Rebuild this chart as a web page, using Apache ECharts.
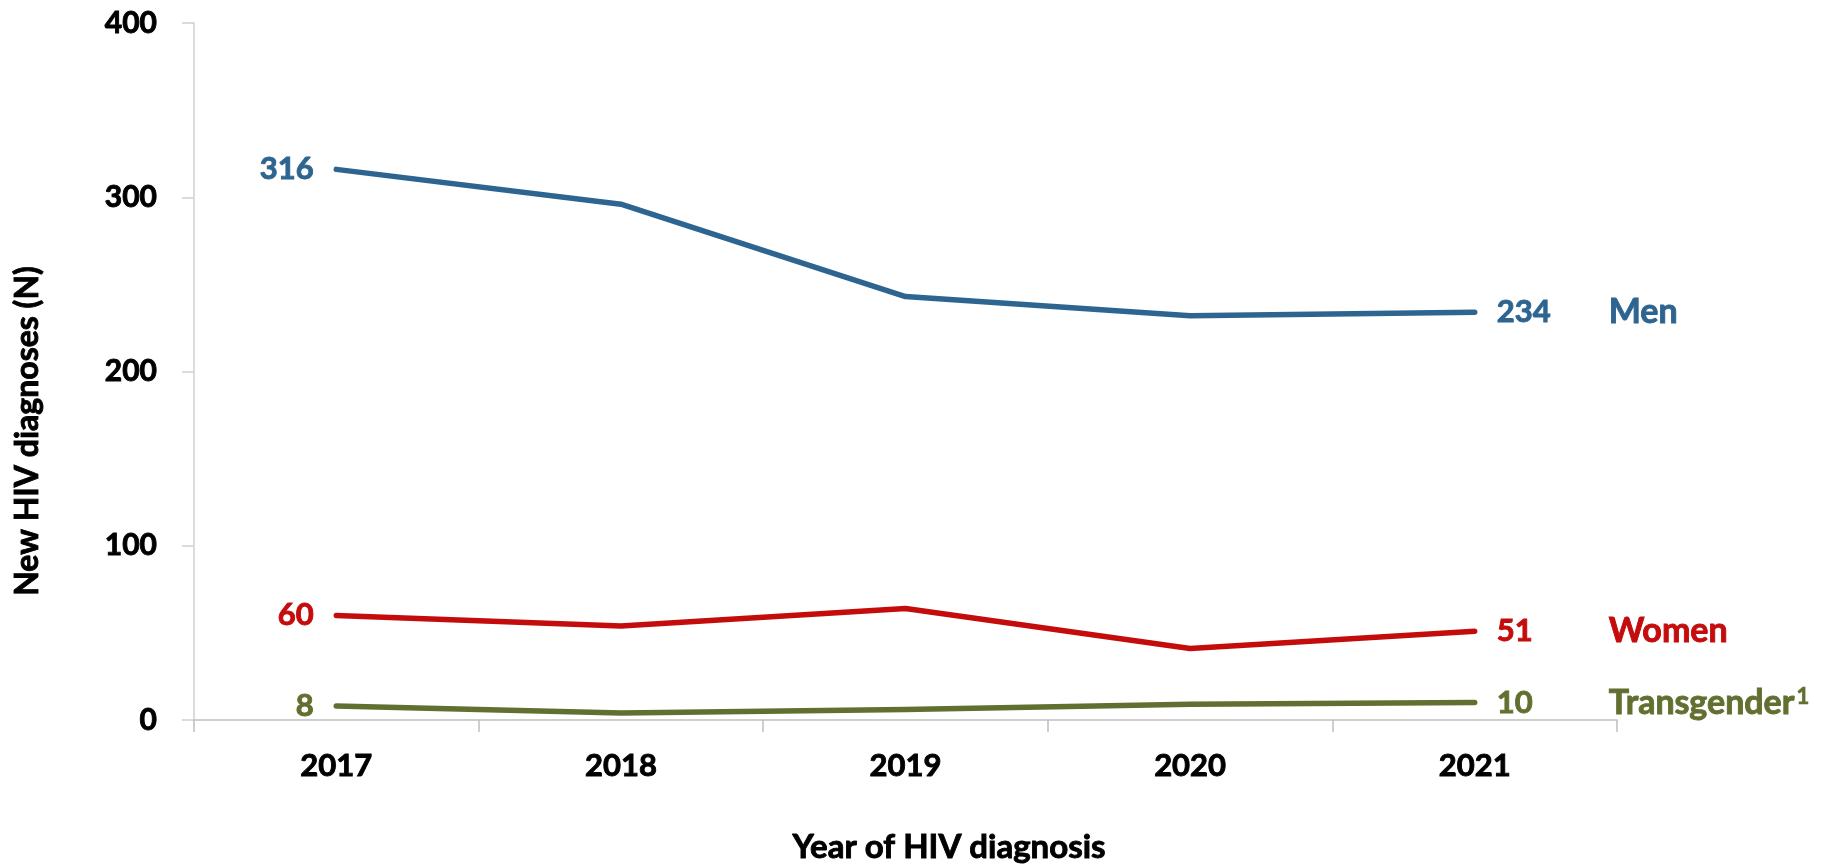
<!DOCTYPE html>
<html>
<head>
<meta charset="utf-8">
<script src="https://cdn.jsdelivr.net/npm/echarts@6/dist/echarts.min.js"></script>
<style>
html,body{margin:0;padding:0;background:#fff;}
#chart{width:1827px;height:866px;}
</style>
</head>
<body>
<div id="chart"></div>
<script>
const years = ['2017', '2018', '2019', '2020', '2021'];
const seriesNames = ['Men', 'Women', 'Transgender'];
const nameSuperscripts = ['', '', '1'];
const menValues = [316, 296, 243, 232, 234];
const womenValues = [60, 54, 64, 41, 51];
const transValues = [8, 4, 6, 9, 10];
const yTitle = 'New HIV diagnoses (N)';
const xTitle = 'Year of HIV diagnosis';

const colors = ['#2E6590', '#C40C0C', '#617030'];
const FONT = 'Lato, "Open Sans", sans-serif';

function mk(idx, vals) {
  const color = colors[idx];
  const sup = nameSuperscripts[idx];
  return {
    type: 'line',
    name: seriesNames[idx],
    data: vals.map((v, i) => i === 0 ? {
      value: v,
      label: { show: true, position: 'left', distance: 22, color: color, fontFamily: FONT, fontWeight: 'bold', fontSize: 31,
               textBorderColor: color, textBorderWidth: 0.9 }
    } : v),
    symbol: 'circle',
    symbolSize: 1,
    itemStyle: { color: color },
    lineStyle: { color: color, width: 5.5, cap: 'round', join: 'round' },
    label: { show: false },
    endLabel: {
      show: true,
      distance: 22,
      formatter: p => '{v|' + p.value + '}{n|' + p.seriesName + '}' + (sup ? '{s|' + sup + '}' : ''),
      rich: {
        v: { width: 112, color: color, fontFamily: FONT, fontWeight: 'bold', fontSize: 31, textBorderColor: color, textBorderWidth: 0.9 },
        n: { color: color, fontFamily: FONT, fontWeight: 'bold', fontSize: 34, textBorderColor: color, textBorderWidth: 0.9 },
        s: { color: color, fontFamily: FONT, fontWeight: 'bold', fontSize: 22, verticalAlign: 'top', padding: [0, 0, 10, 2], textBorderColor: color, textBorderWidth: 0.7 }
      }
    },
    emphasis: { disabled: true }
  };
}

const chart = echarts.init(document.getElementById('chart'));
chart.setOption({
  animation: false,
  backgroundColor: '#fff',
  grid: { left: 194, right: 210, top: 23, bottom: 146 },
  xAxis: {
    type: 'category',
    data: years,
    boundaryGap: true,
    axisLine: { lineStyle: { color: '#BEBEBE', width: 1.5 } },
    axisTick: { show: true, length: 12, lineStyle: { color: '#BEBEBE', width: 1.5 } },
    axisLabel: { margin: 30, color: '#000', fontFamily: FONT, fontWeight: 'bold', fontSize: 31, textBorderColor: '#000', textBorderWidth: 0.9 }
  },
  yAxis: {
    type: 'value',
    min: 0, max: 400, interval: 100,
    axisLine: { show: true, lineStyle: { color: '#CFCFCF', width: 1.5 } },
    axisTick: { show: true, length: 12, lineStyle: { color: '#CFCFCF', width: 1.5 } },
    splitLine: { show: false },
    axisLabel: { margin: 37, color: '#000', fontFamily: FONT, fontWeight: 'bold', fontSize: 30, textBorderColor: '#000', textBorderWidth: 0.9 }
  },
  graphic: [
    { type: 'text', x: 28, y: 431, rotation: Math.PI / 2,
      style: { text: yTitle, align: 'center', verticalAlign: 'middle', fill: '#000', stroke: '#000', lineWidth: 0.9, font: 'bold 32px ' + FONT } },
    { type: 'text', x: 949, y: 847,
      style: { text: xTitle, align: 'center', verticalAlign: 'middle', fill: '#000', stroke: '#000', lineWidth: 0.9, font: 'bold 33px ' + FONT } }
  ],
  series: [
    mk(0, menValues),
    mk(1, womenValues),
    mk(2, transValues)
  ]
});
</script>
</body>
</html>
